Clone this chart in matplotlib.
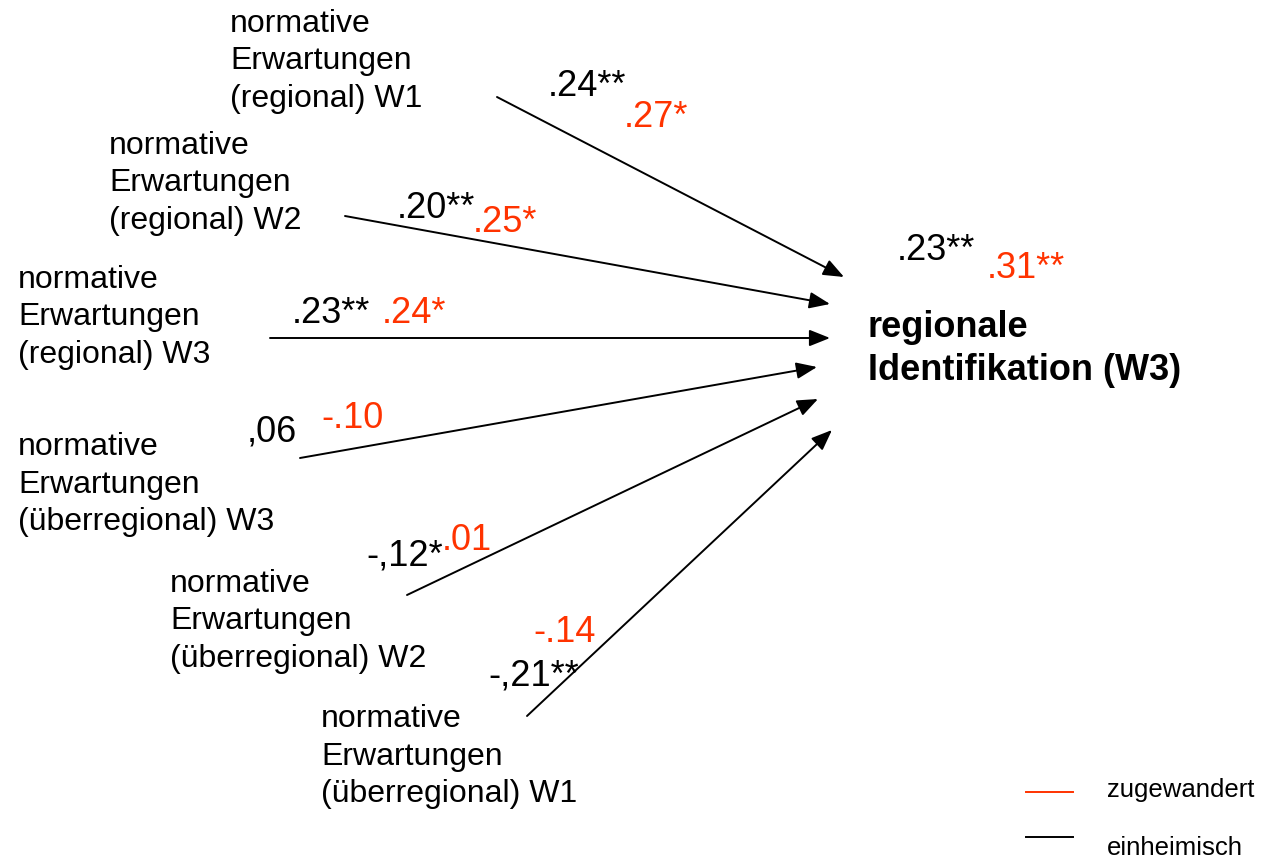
import matplotlib.pyplot as plt
from matplotlib import font_manager

plt.rcParams['font.family'] = ['Liberation Sans', 'DejaVu Sans']

# path model: predictors -> regionale Identifikation (W3)
predictors = ['normative\nErwartungen\n(regional) W1',
              'normative\nErwartungen\n(regional) W2',
              'normative\nErwartungen\n(regional) W3',
              'normative\nErwartungen\n(überregional) W3',
              'normative\nErwartungen\n(überregional) W2',
              'normative\nErwartungen\n(überregional) W1']
coef_einheimisch = ['.24**', '.20**', '.23**', ',06', '-,12*', '-,21**']
coef_zugewandert = ['.27*', '.25*', '.24*', '-.10', '.01', '-.14']
outcome = 'regionale\nIdentifikation (W3)'
r2_einheimisch = '.23**'
r2_zugewandert = '.31**'
groups = ['zugewandert', 'einheimisch']

RED = '#ff3300'

# layout in pixel coordinates (x left, first baseline)
label_pos = [(230, 32), (109, 154), (18, 288), (18, 455), (170, 592), (321, 727)]
line_step = 37.5
arrow_start = [(497, 97), (345, 216), (270, 338), (300, 458), (407, 595), (527, 716)]
arrow_end = [(844, 277), (830, 304), (830, 338), (817, 367), (818, 399), (832, 430)]
black_pos = [(548, 96), (397, 218), (292, 323), (247, 442), (366, 565), (488, 685)]
red_pos = [(624, 127), (473, 232), (382, 323), (321, 428), (442, 550), (533, 642)]

# the labels in the original are narrower than regular Arial
narrow = None
try:
    font_manager.findfont(font_manager.FontProperties(family='Liberation Sans Narrow'),
                          fallback_to_default=False)
    narrow = 'Liberation Sans Narrow'
except Exception:
    pass
if narrow:
    lab_kw = dict(family=[narrow, 'DejaVu Sans'], fontsize=26.5)
else:
    lab_kw = dict(fontsize=23)

fig = plt.figure(figsize=(12.71, 8.61), dpi=100)
ax = fig.add_axes([0, 0, 1, 1])
ax.set_xlim(0, 1271)
ax.set_ylim(861, 0)
ax.axis('off')

for lab, (x, y) in zip(predictors, label_pos):
    for i, line in enumerate(lab.split('\n')):
        ax.text(x, y + i * line_step, line, va='baseline', ha='left', **lab_kw)

for (x0, y0), (x1, y1) in zip(arrow_start, arrow_end):
    ax.annotate('', xy=(x1, y1), xytext=(x0, y0),
                arrowprops=dict(arrowstyle='-|>,head_length=0.45,head_width=0.18',
                                color='black', lw=1.4,
                                mutation_scale=28, shrinkA=0, shrinkB=0))

for c, (x, y) in zip(coef_einheimisch, black_pos):
    ax.text(x, y, c, fontsize=26, va='baseline', ha='left')
for c, (x, y) in zip(coef_zugewandert, red_pos):
    ax.text(x, y, c, fontsize=26, va='baseline', ha='left', color=RED)

for i, line in enumerate(outcome.split('\n')):
    ax.text(868, 337 + i * 43, line, fontsize=26, fontweight='bold',
            va='baseline', ha='left')
ax.text(897, 260, r2_einheimisch, fontsize=26, va='baseline', ha='left')
ax.text(987, 278, r2_zugewandert, fontsize=26, va='baseline', ha='left', color=RED)

# legend
ax.plot([1026, 1073], [792, 792], color=RED, lw=1.4)
ax.plot([1026, 1073], [837, 837], color='black', lw=1.4)
ax.text(1107, 797, groups[0], fontsize=18.5, va='baseline', ha='left')
ax.text(1107, 855, groups[1], fontsize=18.5, va='baseline', ha='left')

fig.savefig('out.png', dpi=100)
